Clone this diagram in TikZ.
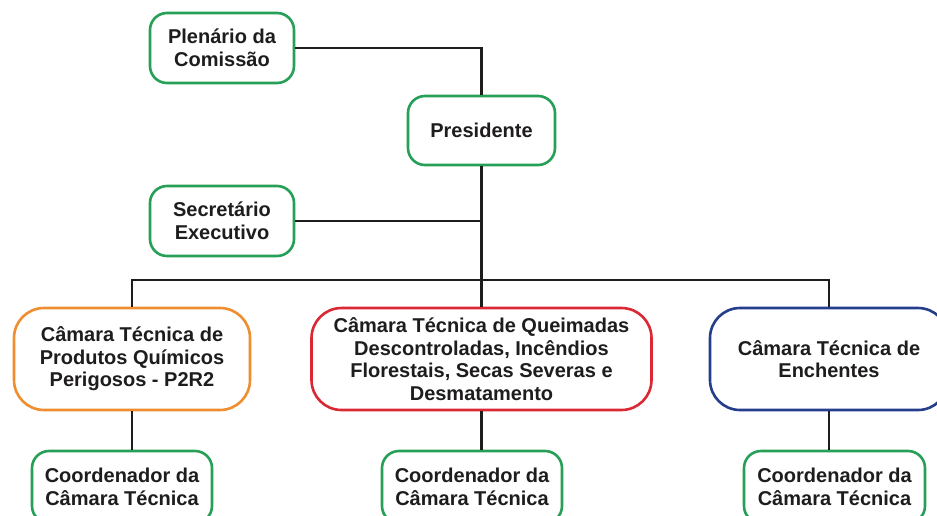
\documentclass[tikz,border=0pt]{standalone}
\usepackage{fontspec}
\setmainfont{Liberation Sans}
\definecolor{bxgreen}{RGB}{38,160,86}
\definecolor{bxorange}{RGB}{238,142,48}
\definecolor{bxred}{RGB}{218,40,52}
\definecolor{bxblue}{RGB}{36,62,140}
\definecolor{txt}{RGB}{30,28,29}
\tikzset{
  base/.style={draw, line width=2.6pt, fill=white, align=center, inner sep=0pt,
    font=\fontsize{20}{22.5}\selectfont\bfseries, text=txt},
  smallbox/.style={base, draw=bxgreen, rounded corners=17pt},
  bigbox/.style={base, rounded corners=30pt, minimum height=102pt},
  conn/.style={draw=txt, line width=2.2pt}
}
\begin{document}
\begin{tikzpicture}[x=1pt,y=-1pt]
\useasboundingbox (0,0) rectangle (937,515);
\clip (0,0) rectangle (937,515);
\fill[white] (0,0) rectangle (937,515);
% nodes
\node[smallbox, minimum width=144pt, minimum height=70pt] (plen) at (222,48) {Plenário da\\Comissão};
\node[smallbox, minimum width=147pt, minimum height=69pt] (pres) at (481.5,130.5) {Presidente};
\node[smallbox, minimum width=144pt, minimum height=70pt] (sec) at (222,221) {Secretário\\Executivo};
\coordinate (bus) at (481.5,280);
\node[bigbox, draw=bxorange, minimum width=236pt] (ct1) at (132,359) {Câmara Técnica de\\Produtos Químicos\\Perigosos - P2R2};
\node[bigbox, draw=bxred, minimum width=340pt] (ct2) at (481.5,359) {Câmara Técnica de Queimadas\\Descontroladas, Incêndios\\Florestais, Secas Severas e\\Desmatamento};
\node[bigbox, draw=bxblue, minimum width=238pt] (ct3) at (829,359) {Câmara Técnica de\\Enchentes};
\node[smallbox, minimum width=180pt, minimum height=72pt] (co1) at (122,487) {Coordenador da\\Câmara Técnica};
\node[smallbox, minimum width=180pt, minimum height=72pt] (co2) at (472,487) {Coordenador da\\Câmara Técnica};
\node[smallbox, minimum width=181pt, minimum height=72pt] (co3) at (834.5,487) {Coordenador da\\Câmara Técnica};
% connectors
\draw[conn] (plen.east) -| (pres.north);
\draw[conn] (pres.south) -- (bus);
\draw[conn] (sec.east) -- (sec.east -| pres.south);
\draw[conn] (ct1.north) -- (ct1.north |- bus) -- (ct3.north |- bus) -- (ct3.north);
\draw[conn] (bus) -- (ct2.north);
\draw[conn] (ct1.south) -- (ct1.south |- co1.north);
\draw[conn] (ct2.south) -- (ct2.south |- co2.north);
\draw[conn] (ct3.south) -- (ct3.south |- co3.north);
\end{tikzpicture}
\end{document}
